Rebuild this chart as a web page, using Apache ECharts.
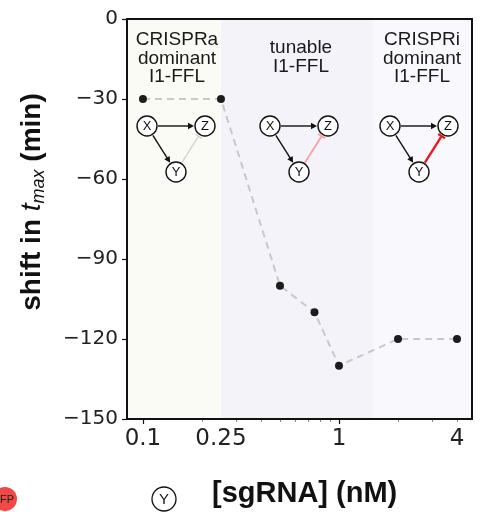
<!DOCTYPE html>
<html>
<head>
<meta charset="utf-8">
<script src="https://cdn.jsdelivr.net/npm/echarts@6/dist/echarts.min.js"></script>
<style>html,body{margin:0;padding:0;background:#fff;}#c{width:480px;height:512px;}</style>
</head>
<body>
<div id="c"></div>
<script>
// ---- data ----
const concentrations = [0.1, 0.25, 0.5, 0.75, 1, 2, 4];      // [sgRNA] (nM)
const shifts = [-30, -30, -100, -110, -130, -120, -120];       // shift in t_max (min)
const xTickValues = [0.1, 0.25, 1, 4];
const xTickLabels = ['0.1', '0.25', '1', '4'];
const xMajorTicks = [0.1, 1];
const xMinorTicks = [0.2, 0.3, 0.4, 0.5, 0.6, 0.7, 0.8, 0.9, 2, 3, 4];
const xRange = [0.0829, 4.77];
const yRange = [-150, 0];
const yInterval = 30;
const regionBounds = [0.25, 1.5];
const regionTitles = [['CRISPRa', 'dominant', 'I1-FFL'], ['tunable', 'I1-FFL'], ['CRISPRi', 'dominant', 'I1-FFL']];

// ---- helpers ----
const L = v => Math.log10(v);
const xMin = L(xRange[0]), xMax = L(xRange[1]);
const regionColors = ['#fbfbf5', '#f3f3f9', '#f9f8fc'];
const edges = [xMin, L(regionBounds[0]), L(regionBounds[1]), xMax];
const markAreaData = regionColors.map((c, i) => [
  { xAxis: edges[i], yAxis: yRange[0], itemStyle: { color: c } },
  { xAxis: edges[i + 1], yAxis: yRange[1] }
]);

function fmtX(v) {
  let best = 0, d = Infinity;
  xTickValues.forEach((t, i) => { const dd = Math.abs(L(t) - v); if (dd < d) { d = dd; best = i; } });
  return xTickLabels[best];
}

const FONT = 'Liberation Sans';
const graphics = [];

// region titles
const titleCenters = [177, 301, 422];
const titleTops = [31, 39, 31];
regionTitles.forEach((lines, i) => {
  graphics.push({
    type: 'text', x: titleCenters[i], y: titleTops[i], z: 100,
    style: { text: lines.join('\n'), font: '19px "' + FONT + '"', fill: '#1a1a1a', align: 'center', verticalAlign: 'top', lineHeight: 18.5 }
  });
});

function node(x, y, label, r, fs) {
  graphics.push({ type: 'circle', shape: { cx: x, cy: y, r: r }, z: 100, style: { fill: '#fff', stroke: '#111', lineWidth: 1.4 } });
  graphics.push({ type: 'text', x: x, y: y + 0.5, z: 101, style: { text: label, font: fs + 'px "' + FONT + '"', fill: '#111', align: 'center', verticalAlign: 'middle' } });
}
function arrow(x1, y1, x2, y2, color, w) {
  const dx = x2 - x1, dy = y2 - y1, len = Math.hypot(dx, dy), ux = dx / len, uy = dy / len, px = -uy, py = ux;
  const hl = 6, hw = 3.2;
  graphics.push({ type: 'line', z: 100, shape: { x1: x1, y1: y1, x2: x2 - ux * hl * 0.8, y2: y2 - uy * hl * 0.8 }, style: { stroke: color, lineWidth: w } });
  graphics.push({ type: 'polygon', z: 100, shape: { points: [[x2, y2], [x2 - ux * hl + px * hw, y2 - uy * hl + py * hw], [x2 - ux * hl - px * hw, y2 - uy * hl - py * hw]] }, style: { fill: color } });
}
function repress(x1, y1, x2, y2, color, w) {
  const dx = x2 - x1, dy = y2 - y1, len = Math.hypot(dx, dy), ux = dx / len, uy = dy / len, px = -uy, py = ux;
  const hb = 4;
  graphics.push({ type: 'line', z: 100, shape: { x1: x1, y1: y1, x2: x2, y2: y2 }, style: { stroke: color, lineWidth: w } });
  graphics.push({ type: 'line', z: 100, shape: { x1: x2 + px * hb, y1: y2 + py * hb, x2: x2 - px * hb, y2: y2 - py * hb }, style: { stroke: color, lineWidth: w } });
}
function diagram(ox, oy, repColor, repW) {
  const X = [ox, oy], Z = [ox + 58, oy], Y = [ox + 29, oy + 46], r = 10;
  arrow(X[0] + r + 1, X[1], Z[0] - r - 1, Z[1], '#111', 1.4);
  let dx = Y[0] - X[0], dy = Y[1] - X[1], len = Math.hypot(dx, dy), ux = dx / len, uy = dy / len;
  arrow(X[0] + ux * (r + 1), X[1] + uy * (r + 1), Y[0] - ux * (r + 1), Y[1] - uy * (r + 1), '#111', 1.4);
  dx = Z[0] - Y[0]; dy = Z[1] - Y[1]; len = Math.hypot(dx, dy); ux = dx / len; uy = dy / len;
  repress(Y[0] + ux * (r + 1), Y[1] + uy * (r + 1), Z[0] - ux * (r + 2), Z[1] - uy * (r + 2), repColor, repW);
  node(X[0], X[1], 'X', r, 13);
  node(Z[0], Z[1], 'Z', r, 13);
  node(Y[0], Y[1], 'Y', r, 13);
}
diagram(147, 126, '#d2d2d2', 1.4);
diagram(270, 126, '#f3a3a3', 1.8);
diagram(390, 126, '#e81c1c', 2.4);

// y axis title
graphics.push({
  type: 'text', x: 32, y: 202, rotation: Math.PI / 2, z: 100,
  style: {
    text: '{b|shift in }{i|t}{s|max}{b| (min)}', align: 'center', verticalAlign: 'middle',
    rich: {
      b: { fontSize: 28, fontWeight: 'bold', fontFamily: FONT, fill: '#111', color: '#111' },
      i: { fontSize: 28, fontStyle: 'italic', fontFamily: FONT, fill: '#111', color: '#111' },
      s: { fontSize: 18, fontStyle: 'italic', fontFamily: FONT, fill: '#111', color: '#111', padding: [14, 0, 0, 0] }
    }
  }
});

// x axis title
graphics.push({ type: 'circle', shape: { cx: 164, cy: 499, r: 12 }, z: 100, style: { fill: '#fff', stroke: '#111', lineWidth: 1.3 } });
graphics.push({ type: 'text', x: 164, y: 500, z: 101, style: { text: 'Y', font: '15px "' + FONT + '"', fill: '#111', align: 'center', verticalAlign: 'middle' } });
graphics.push({ type: 'text', x: 212, y: 494, z: 100, style: { text: '[sgRNA] (nM)', font: 'bold 29px "' + FONT + '"', fill: '#111', align: 'left', verticalAlign: 'middle' } });

// red reporter badge at bottom-left
graphics.push({ type: 'circle', shape: { cx: 5, cy: 499, r: 12 }, z: 100, style: { fill: '#f24848' } });
graphics.push({ type: 'text', x: 3, y: 500, z: 101, style: { text: 'RFP', font: '11px "' + FONT + '"', fill: '#222', align: 'center', verticalAlign: 'middle' } });

const chart = echarts.init(document.getElementById('c'), null, { renderer: 'canvas' });
const axisBase = { min: xMin, max: xMax, type: 'value', splitLine: { show: false } };
const lineOn = { show: true, onZero: false, lineStyle: { color: '#111', width: 2 } };
chart.setOption({
  animation: false,
  backgroundColor: '#fff',
  grid: { left: 127, right: 8, top: 19, bottom: 93, containLabel: false },
  xAxis: [
    Object.assign({}, axisBase, {
      position: 'bottom', z: 5,
      axisLine: lineOn,
      axisTick: { show: true, customValues: xMajorTicks.map(L), length: 5, lineStyle: { color: '#111', width: 1.2 } },
      axisLabel: { customValues: xTickValues.map(L), formatter: fmtX, margin: 9, fontSize: 23, fontFamily: 'DejaVu Sans', color: '#222' }
    }),
    Object.assign({}, axisBase, {
      position: 'bottom', z: 4,
      axisLine: { show: false, onZero: false },
      axisTick: { show: true, customValues: xMinorTicks.map(L), length: 3, lineStyle: { color: '#888', width: 1 } },
      axisLabel: { show: false }
    }),
    Object.assign({}, axisBase, {
      position: 'top', z: 5,
      axisLine: lineOn,
      axisTick: { show: false }, axisLabel: { show: false }
    })
  ],
  yAxis: [
    {
      type: 'value', min: yRange[0], max: yRange[1], interval: yInterval, z: 5, position: 'left',
      splitLine: { show: false },
      axisLine: lineOn,
      axisTick: { show: true, length: 5, lineStyle: { color: '#111', width: 1.2 } },
      axisLabel: { margin: 9, fontSize: 20, fontFamily: 'DejaVu Sans', color: '#222', formatter: v => String(v).replace('-', '\u2212') }
    },
    {
      type: 'value', min: yRange[0], max: yRange[1], interval: yInterval, position: 'right', z: 5,
      splitLine: { show: false },
      axisLine: lineOn,
      axisTick: { show: false }, axisLabel: { show: false }
    }
  ],
  series: [{
    type: 'line',
    xAxisIndex: 0, yAxisIndex: 0,
    data: concentrations.map((c, i) => [L(c), shifts[i]]),
    symbol: 'circle', symbolSize: 8,
    itemStyle: { color: '#1c1c1c' },
    lineStyle: { color: '#c9c9c9', width: 2, type: [7, 5] },
    z: 3,
    markArea: { silent: true, z: 1, data: markAreaData }
  }],
  graphic: graphics
});
</script>
</body>
</html>
